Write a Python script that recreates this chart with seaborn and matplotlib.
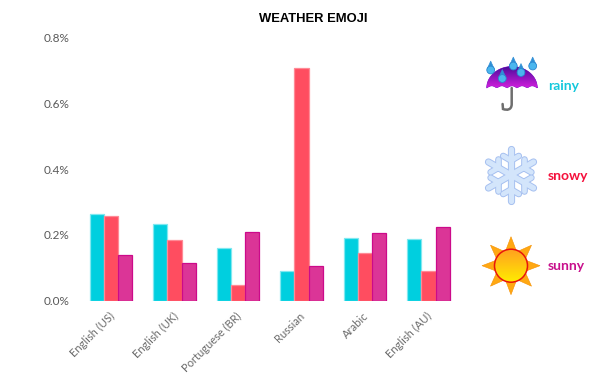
import matplotlib
matplotlib.use("Agg")
import matplotlib.pyplot as plt
from matplotlib.patches import Circle, Polygon, PathPatch
from matplotlib.path import Path
from matplotlib.ticker import FuncFormatter
from matplotlib.transforms import ScaledTranslation
import numpy as np
import pandas as pd
import seaborn as sns

# --- Data --------------------------------------------------------------------
languages = ['English (US)', 'English (UK)', 'Portuguese (BR)', 'Russian', 'Arabic', 'English (AU)']
rainy = [0.264, 0.232, 0.161, 0.090, 0.190, 0.187]
snowy = [0.259, 0.184, 0.046, 0.709, 0.146, 0.090]
sunny = [0.138, 0.115, 0.209, 0.106, 0.206, 0.225]
y_ticks = [0.0, 0.2, 0.4, 0.6, 0.8]

FILLS = {'rainy': '#00CFDF', 'snowy': '#FF4D60', 'sunny': '#DB3597'}
EDGES = {'rainy': '#7FE8F0', 'snowy': '#FF8A96', 'sunny': '#CC0A8A'}
LABEL_COLORS = {'rainy': '#14C8DC', 'snowy': '#F5103C', 'sunny': '#C8108C'}

df = pd.DataFrame({'language': languages, 'rainy': rainy, 'snowy': snowy, 'sunny': sunny})
long_df = df.melt(id_vars='language', var_name='weather', value_name='share')

# --- Chart -------------------------------------------------------------------
sns.set_theme(style='white')
plt.rcParams['font.family'] = ['Lato', 'DejaVu Sans']

fig = plt.figure(figsize=(6, 3.74), dpi=100)
ax = fig.add_axes([79.25 / 600, 1 - 300.5 / 374, 381 / 600, 262.5 / 374])

sns.barplot(data=long_df, x='language', y='share', hue='weather', palette=FILLS,
            hue_order=['rainy', 'snowy', 'sunny'], width=0.666, saturation=1,
            legend=False, ax=ax)

# seaborn keeps one container per hue level
for container, name in zip(ax.containers, ['rainy', 'snowy', 'sunny']):
    for bar in container:
        bar.set_edgecolor(EDGES[name])
        bar.set_linewidth(0.9)

ax.set_xlim(-0.5, 5.5)
ax.set_ylim(0, 0.8)
ax.set_yticks(y_ticks)
ax.yaxis.set_major_formatter(FuncFormatter(lambda v, _: f'{v:.1f}%'))
ax.set_xlabel('')
ax.set_ylabel('')
sns.despine(ax=ax, left=True, bottom=True)
ax.tick_params(axis='y', length=0, pad=7, labelsize=8.5, labelcolor='#595959')
ax.tick_params(axis='x', length=0, pad=7, labelsize=8.0, labelcolor='#6b6b6b')
shift = ScaledTranslation(-1.5 / 72, 0, fig.dpi_scale_trans)
for label in ax.get_xticklabels():
    label.set(rotation=45, ha='right', rotation_mode='anchor')
    label.set_transform(label.get_transform() + shift)

fig.text(313 / 600, 1 - 18.5 / 374, 'WEATHER EMOJI', ha='center', va='center',
         fontsize=9.4, fontweight='bold', family='Liberation Sans', color='black')

# --- Icons, overlay in pixel coordinates -------------------------------------
art = fig.add_axes([0, 0, 1, 1], facecolor='none')
art.set_xlim(0, 600)
art.set_ylim(374, 0)
art.axis('off')


def gradient(extent, top, bottom, clip, zorder):
    # vertical colour ramp clipped to a patch
    ramp = np.linspace(0, 1, 64)[:, None, None]
    a, b = np.array(matplotlib.colors.to_rgb(top)), np.array(matplotlib.colors.to_rgb(bottom))
    im = art.imshow(a + (b - a) * ramp, extent=extent, aspect='auto', zorder=zorder)
    im.set_clip_path(clip)
    art.set_xlim(0, 600)
    art.set_ylim(374, 0)


# umbrella
hook = Path([(511.7, 88), (511.7, 104), (511.7, 110), (507, 110.5), (503, 109), (502.6, 104)],
            [Path.MOVETO, Path.LINETO, Path.CURVE4, Path.CURVE4, Path.CURVE4, Path.LINETO])
art.add_patch(PathPatch(hook, fc='none', ec='#6e6e6e', lw=1.8, capstyle='round', zorder=2))
t = np.linspace(np.pi, 0, 40)
dome_top = np.c_[512 + 25.3 * np.cos(t), 88 - 21.5 * np.sin(t)]
# scalloped lower rim of the canopy
rim_x = np.linspace(537.3, 486.7, 33)
rim_y = 88 - 2.2 * np.abs(np.sin((rim_x - 486.7) / 50.6 * 5 * np.pi))
dome = Polygon(np.r_[dome_top, np.c_[rim_x, rim_y]], fc='#7a10c8', ec='#7a12c8', lw=0.5, zorder=3)
art.add_patch(dome)
gradient((486, 538, 89, 66), '#4a0a9a', '#d820e0', dome, 3.5)
drop_x = [490.7, 513.3, 521.0, 532.7, 502.3]
drop_y = [70.0, 66.0, 72.5, 66.0, 78.5]
for dx, dy in zip(drop_x, drop_y):
    art.add_patch(Polygon([(dx, dy - 9), (dx - 3.6, dy - 1), (dx + 3.6, dy - 1)],
                          fc='#2f8fd6', ec='#2f8fd6', lw=0.4, zorder=4))
    art.add_patch(Circle((dx, dy), 3.9, fc='#4ab6ee', ec='#2a86d0', lw=0.6, zorder=4))

# snowflake
cx, cy, arm = 511, 175, 26
segments = []
for ang in np.deg2rad(np.arange(30, 390, 60) + 60):
    ux, uy = np.cos(ang), np.sin(ang)
    segments.append((cx, cy, cx + arm * ux, cy + arm * uy, 3.8))
    bx, by = cx + 14.5 * ux, cy + 14.5 * uy
    for side in (-1, 1):
        a2 = ang + side * np.deg2rad(60)
        segments.append((bx, by, bx + 9 * np.cos(a2), by + 9 * np.sin(a2), 3.4))
for x0, y0, x1, y1, w in segments:
    art.plot([x0, x1], [y0, y1], color='#a6c0f0', lw=w + 1.4, solid_capstyle='round', zorder=3)
for x0, y0, x1, y1, w in segments:
    art.plot([x0, x1], [y0, y1], color='#d3e5fb', lw=w, solid_capstyle='round', zorder=4)

# sun
sx, sy = 511, 265.7
angles = np.deg2rad(np.arange(0, 360, 22.5))
radii = np.where(np.arange(16) % 2 == 0, 29, 15)
art.add_patch(Polygon(np.c_[sx + radii * np.cos(angles), sy + radii * np.sin(angles)],
                      fc='#FFA812', ec='#F59000', lw=0.4, zorder=3))
disc = Circle((sx, sy), 16.5, fc='#FFD000', ec='none', zorder=3.2)
art.add_patch(disc)
gradient((sx - 17, sx + 17, sy + 17, sy - 17), '#FFA020', '#FFEE00', disc, 3.5)
art.add_patch(Circle((sx, sy), 16.5, fc='none', ec='#E8140C', lw=1.1, zorder=5))

# weather labels
for name, ypos in zip(['rainy', 'snowy', 'sunny'], [86, 176, 266.5]):
    art.text(548, ypos, name, color=LABEL_COLORS[name], fontsize=10, fontweight='bold',
             ha='left', va='center')

fig.savefig('out.png', dpi=100)
